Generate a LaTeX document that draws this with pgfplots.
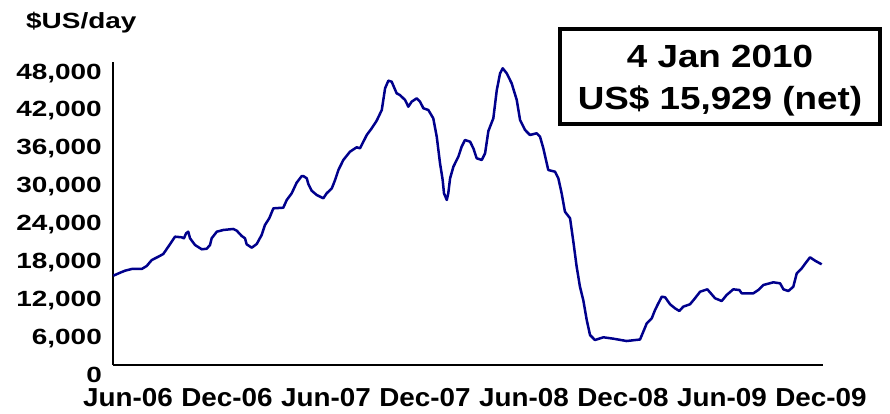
\documentclass[border=0pt]{standalone}
\usepackage{fontspec}
\setmainfont{Liberation Sans}
\newfontfamily\fa[FakeStretch=1.27]{Liberation Sans}
\newfontfamily\fb[FakeStretch=1.07]{Liberation Sans}
\newfontfamily\fc[FakeStretch=1.15]{Liberation Sans}
\usepackage{pgfplots}
\pgfplotsset{compat=1.18}
\definecolor{navyline}{RGB}{0,0,140}
\begin{document}
\begin{tikzpicture}
\useasboundingbox (0,0) rectangle (890pt,413pt);
\begin{axis}[
  at={(113pt,48pt)}, anchor=south west,
  scale only axis, width=710pt, height=303pt,
  xmin=-0.91, xmax=42.12, ymin=0, ymax=48000,
  axis lines*=left,
  axis line style={line width=2.5pt, black},
  scaled y ticks=false,
  xtick={0,6,...,42},
  xticklabels={Jun-06,Dec-06,Jun-07,Dec-07,Jun-08,Dec-08,Jun-09,Dec-09},
  ytick={0,6000,12000,18000,24000,30000,36000,42000,48000},
  yticklabels={0,{6,000},{12,000},{18,000},{24,000},{30,000},{36,000},{42,000},{48,000}},
  major tick length=0pt,
  xticklabel style={font=\fb\bfseries\fontsize{26}{26}\selectfont, anchor=north, inner sep=0pt, yshift=-23pt},
  yticklabel style={font=\fa\bfseries\fontsize{22}{22}\selectfont, anchor=base east, inner sep=0pt, xshift=-11pt, yshift=-17pt},
  clip=false,
]
\addplot[navyline, line width=2.5pt, line join=round] coordinates {
(-0.89,14150) (-0.48,14620) (-0.18,14940) (0.22,15210) (0.83,15210) (1.13,15680)
(1.44,16630) (1.84,17160) (2.14,17590) (2.44,18740) (2.85,20330) (3.25,20230)
(3.39,20070) (3.52,20860) (3.65,21120) (3.76,20070) (4.06,19010) (4.47,18330)
(4.77,18420) (4.97,19010) (5.07,20070) (5.38,21120) (5.78,21390) (6.38,21550)
(6.59,21280) (6.89,20440) (7.09,20070) (7.19,19120) (7.50,18580) (7.80,19170)
(8.10,20600) (8.30,22180) (8.56,23240) (8.81,24820) (9.41,24920) (9.62,26140)
(9.92,27200) (10.22,28880) (10.53,29940) (10.62,29940) (10.83,29580) (10.93,28670)
(11.13,27610) (11.44,26930) (11.84,26410) (12.04,27200) (12.35,27990) (12.55,29310)
(12.75,30890) (13.05,32480) (13.45,33790) (13.86,34490) (14.06,34330) (14.47,36440)
(14.77,37500) (15.07,38700) (15.38,40400) (15.58,43840) (15.78,45040) (15.98,44880)
(16.28,43040) (16.48,42770) (16.79,41980) (16.99,40920) (17.19,41710) (17.50,42250)
(17.70,41710) (17.90,40670) (18.20,40400) (18.50,39080) (18.71,36170) (18.91,31950)
(19.07,29310) (19.15,27200) (19.32,26140) (19.41,27200) (19.52,29580) (19.72,31420)
(20.02,33000) (20.22,34580) (20.42,35640) (20.73,35380) (20.93,34330) (21.13,32750)
(21.44,32480) (21.64,33540) (21.84,37070) (22.14,39080) (22.35,43570) (22.55,46210)
(22.71,47000) (22.95,46210) (23.25,44630) (23.56,41980) (23.76,38810) (24.06,37230)
(24.36,36440) (24.77,36710) (24.97,36170) (25.17,34330) (25.47,30890) (25.88,30620)
(26.08,29580) (26.28,27200) (26.48,24290) (26.79,23240) (26.99,19530) (27.19,15570)
(27.39,12400) (27.59,10300) (27.80,7130) (28.00,4750) (28.30,3960) (28.81,4390)
(29.41,4170) (30.22,3800) (31.03,4040) (31.23,5280) (31.44,6610) (31.74,7400)
(31.94,8710) (32.14,9770) (32.35,10820) (32.55,10730) (32.85,9620) (33.15,8980)
(33.41,8560) (33.65,9240) (34.06,9620) (34.36,10570) (34.67,11610) (35.11,11990)
(35.58,10570) (35.98,10140) (36.28,11090) (36.68,11990) (37.05,11880) (37.19,11360)
(37.90,11360) (38.20,11880) (38.50,12670) (39.11,13100) (39.52,12940) (39.72,11990)
(40.02,11720) (40.32,12400) (40.53,14530) (40.83,15320) (41.13,16370) (41.33,17060)
(41.64,16520) (42.04,15950)
};
\end{axis}
\node[anchor=base west, inner sep=0pt] at (26pt,384pt) {\fa\bfseries\fontsize{22}{22}\selectfont \$US/day};
\draw[line width=4pt] (560pt,289pt) rectangle (880pt,384pt);
\node[anchor=base, inner sep=0pt] at (720pt,345pt) {\fc\bfseries\fontsize{32}{32}\selectfont 4 Jan 2010};
\node[anchor=base, inner sep=0pt] at (720pt,303pt) {\fc\bfseries\fontsize{32}{32}\selectfont US\$ 15,929 (net)};
\end{tikzpicture}
\end{document}
